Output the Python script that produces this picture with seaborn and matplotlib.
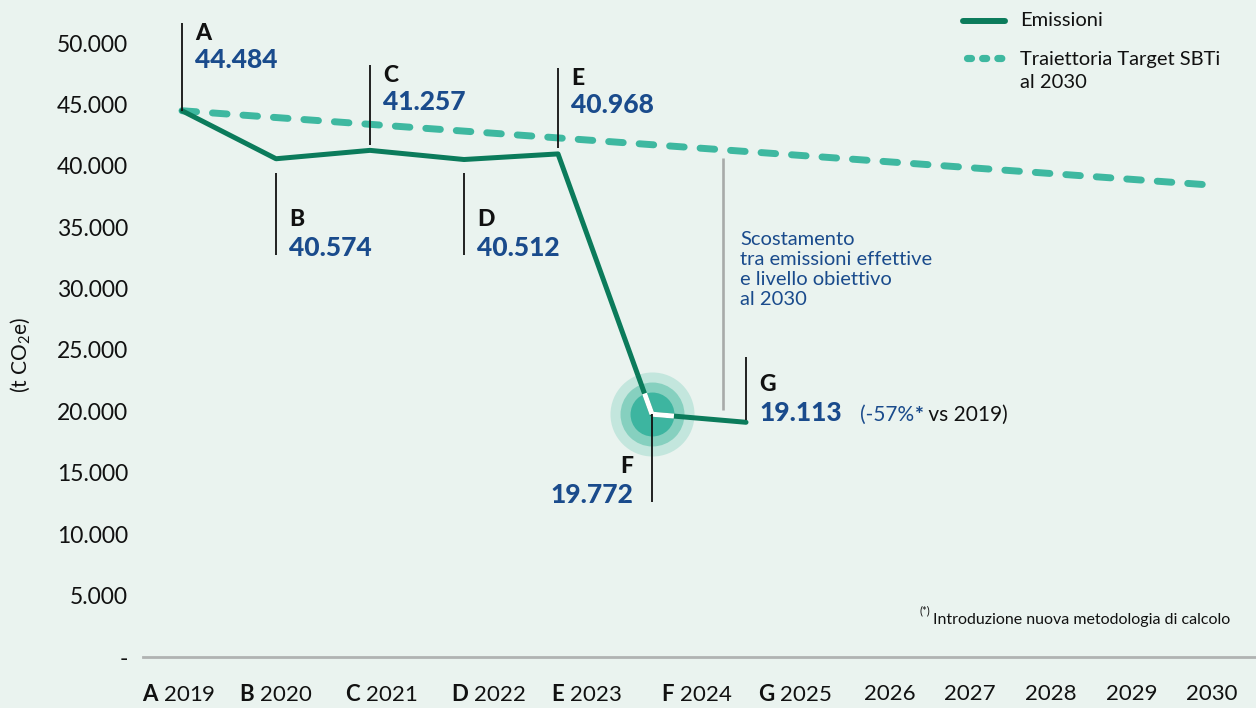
import matplotlib
matplotlib.use("Agg")
import matplotlib.pyplot as plt
from matplotlib.lines import Line2D
from matplotlib.transforms import IdentityTransform
import numpy as np
import pandas as pd
import seaborn as sns

# ---------------- data ----------------
years = [2019, 2020, 2021, 2022, 2023, 2024, 2025]
emissions = [44484, 40574, 41257, 40512, 40968, 19772, 19113]
point_letters = ["A", "B", "C", "D", "E", "F", "G"]
value_labels = ["44.484", "40.574", "41.257", "40.512", "40.968", "19.772", "19.113"]

target_years = [2019, 2030]
target_values = [44484, 38400]

axis_years = ["2019", "2020", "2021", "2022", "2023", "2024",
              "2025", "2026", "2027", "2028", "2029", "2030"]
axis_letters = ["A", "B", "C", "D", "E", "F", "G", "", "", "", "", ""]
ytick_values = [0, 5000, 10000, 15000, 20000, 25000, 30000, 35000, 40000, 45000, 50000]
ytick_labels = ["-", "5.000", "10.000", "15.000", "20.000", "25.000",
                "30.000", "35.000", "40.000", "45.000", "50.000"]

# ---------------- style ----------------
BG = "#eaf3ef"
GREEN = "#0b7b5b"
TEAL = "#3eb8a0"
BLUE = "#1a4b8c"
INK = "#111111"
GREY = "#a8aaa9"

# horizontal placement of the year captions (in year units along the x axis)
xtick_slots = [2018.97, 2020.0, 2021.12, 2022.26, 2023.3, 2024.47,
               2025.52, 2026.53, 2027.38, 2028.24, 2029.1, 2029.96]

sns.set_theme(style="white")
plt.rcParams["font.family"] = ["Lato", "DejaVu Sans"]
plt.rcParams["mathtext.fontset"] = "custom"
plt.rcParams["mathtext.rm"] = "Lato"
plt.rcParams["mathtext.bf"] = "Lato:bold"
plt.rcParams["mathtext.it"] = "Lato:italic"

W, H = 1256, 708
fig = plt.figure(figsize=(W / 100, H / 100), dpi=100, facecolor=BG)
ax = fig.add_axes([143 / W, (H - 657) / H, 1 - 143 / W, 657 / H])
ax.set_facecolor(BG)

PX_PER_T = 0.01228      # vertical pixels per tonne
PX_PER_YEAR = 94.0      # horizontal pixels per year


def dy(px):
    return px / PX_PER_T


def pt(px):
    return px * 0.72


# ---------------- series ----------------
df_target = pd.DataFrame({"anno": target_years, "t": target_values})
df_em = pd.DataFrame({"anno": years, "t": emissions})

sns.lineplot(data=df_target, x="anno", y="t", ax=ax, color=TEAL, lw=5.0,
             legend=False, zorder=2)
tline = ax.lines[-1]
tline.set_dashes((2.1, 2.3))
tline.set_dash_capstyle("round")

sns.lineplot(data=df_em, x="anno", y="t", ax=ax, color=GREEN, lw=3.6,
             legend=False, zorder=4)
ax.lines[-1].set_solid_capstyle("round")

ax.set_xlim(2019 - 39 / PX_PER_YEAR, 2019 + (W - 182) / PX_PER_YEAR)
ax.set_ylim(0, 657 / PX_PER_T)
ax.set_xlabel("")
ax.set_ylabel("")

# highlighted point F (2024)
fx, fy = years[5], emissions[5]
for size, col in [(3660, "#c3e6dd"), (2120, "#86d0bf"), (1000, "#3db5a0")]:
    ax.scatter([fx], [fy], s=size, color=col, linewidths=0, zorder=3)

p0 = ax.transData.transform((fx, fy))
for j in (4, 6):
    p1 = ax.transData.transform((years[j], emissions[j]))
    frac = 22 / np.hypot(*(p1 - p0))
    ax.plot([fx, fx + frac * (years[j] - fx)],
            [fy, fy + frac * (emissions[j] - fy)],
            color="white", lw=3.6, solid_capstyle="butt", zorder=5)

# ---------------- point labels ----------------
# (side, direction, gap px, length px, text anchor)
label_layout = [
    ("right", "up", 0, 88, "top"),
    ("right", "down", 14, 82, "bottom"),
    ("right", "up", 5, 80, "top"),
    ("right", "down", 13, 82, "bottom"),
    ("right", "up", 6, 80, "top"),
    ("left", "down", 0, 88, "bottom"),
    ("right", "up", 2, 63, "bottom"),
]

value_texts = []
for x, v, letter, vlab, (side, direc, gap, length, anchor) in zip(
        years, emissions, point_letters, value_labels, label_layout):
    sgn = 1 if direc == "up" else -1
    y0 = v + sgn * dy(gap)
    y1 = v + sgn * dy(gap + length)
    ax.plot([x, x], [y0, y1], color=INK, lw=1.3, zorder=6,
            solid_capstyle="butt")
    top, bottom = max(y0, y1), min(y0, y1)
    xoff = pt(13) if side == "right" else -pt(19)
    ha = "left" if side == "right" else "right"
    if anchor == "top":
        ref = top
        off_letter, off_value = -pt(17), -pt(45)
    else:
        ref = bottom
        off_letter, off_value = pt(29), -pt(1)
    ax.annotate(letter, xy=(x, ref), xytext=(xoff, off_letter),
                textcoords="offset points", ha=ha, va="baseline",
                fontsize=16.5, fontweight="black", color=INK, zorder=7)
    t = ax.annotate(vlab, xy=(x, ref), xytext=(xoff, off_value),
                    textcoords="offset points", ha=ha, va="baseline",
                    fontsize=19, fontweight="black", color=BLUE, zorder=7)
    value_texts.append(t)

# percentage note next to G
g1 = ax.annotate("(-57%", xy=(1, 0), xycoords=value_texts[6], xytext=(pt(18), 0),
                 textcoords="offset points", ha="left", va="bottom",
                 fontsize=15, color=BLUE)
g2 = ax.annotate("*", xy=(1, 0), xycoords=g1, xytext=(0, 0),
                 textcoords="offset points", ha="left", va="bottom",
                 fontsize=15, fontweight="black", color=BLUE)
ax.annotate(" vs 2019)", xy=(1, 0), xycoords=g2, xytext=(0, 0),
            textcoords="offset points", ha="left", va="bottom",
            fontsize=15, color=INK)

# gap between actual emissions and the 2030 target path
gap_year = 2024.75
gap_top = np.interp(gap_year, target_years, target_values) - dy(8)
gap_bottom = emissions[6] + dy(12)
ax.plot([gap_year, gap_year], [gap_bottom, gap_top], color=GREY, lw=1.9,
        solid_capstyle="butt", zorder=2)
ax.annotate("Scostamento\ntra emissioni effettive\ne livello obiettivo\nal 2030",
            xy=(gap_year, gap_bottom), xytext=(pt(18), pt(179)),
            textcoords="offset points", ha="left", va="top",
            fontsize=14.5, color=BLUE, linespacing=1.2)

# ---------------- axes ----------------
for s in ("top", "right", "left"):
    ax.spines[s].set_visible(False)
ax.spines["bottom"].set_color("#b0b3b2")
ax.spines["bottom"].set_linewidth(2.0)

ax.set_yticks(ytick_values)
ax.set_yticklabels(ytick_labels, fontsize=16.5, color=INK)
ax.set_xticks(xtick_slots)
ax.set_xticklabels(
    [(r"$\mathbf{%s}$ %s" % (l, y)) if l else y for l, y in zip(axis_letters, axis_years)],
    fontsize=16, color=INK)
ax.tick_params(axis="y", length=0, pad=pt(15))
ax.tick_params(axis="x", length=0, pad=pt(27))
ax.grid(False)

fig.text(20 / W, 1 - 355 / H, r"(t CO$_2$e)", rotation=90, ha="center",
         va="center", fontsize=15, color=INK)

# ---------------- legend ----------------
fig.add_artist(Line2D([963, 1005], [H - 21, H - 21], transform=IdentityTransform(),
                      color=GREEN, lw=4.3, solid_capstyle="round"))
leg_dash = Line2D([967, 1004], [H - 58, H - 58], transform=IdentityTransform(),
                  color=TEAL, lw=5.2, dash_capstyle="round")
leg_dash.set_dashes((0.55, 1.55))
fig.add_artist(leg_dash)
fig.text(1020 / W, 1 - 21 / H, "Emissioni", ha="left", va="center",
         fontsize=14.5, color=INK)
fig.text(1020 / W, 1 - 51 / H, "Traiettoria Target SBTi\nal 2030", ha="left",
         va="top", fontsize=14.5, color=INK, linespacing=1.4)

# ---------------- footnote ----------------
fig.text(919 / W, 1 - 614 / H, "(*)", ha="left", va="baseline", fontsize=8,
         color=INK)
fig.text(933 / W, 1 - 624 / H, "Introduzione nuova metodologia di calcolo",
         ha="left", va="baseline", fontsize=11.5, color=INK)

fig.savefig("out.png", dpi=100, facecolor=BG)
